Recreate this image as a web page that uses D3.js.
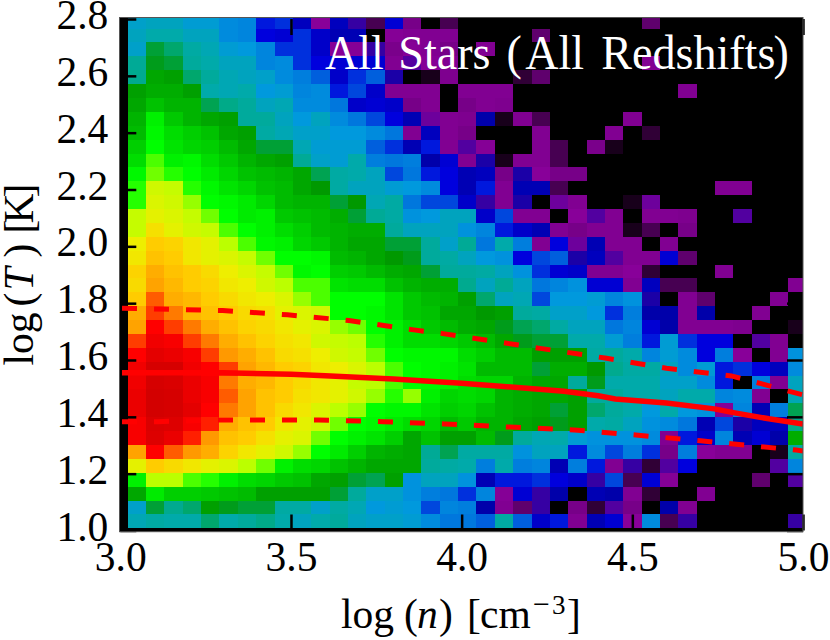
<!DOCTYPE html>
<html>
<head>
<meta charset="utf-8">
<script src="https://cdn.jsdelivr.net/npm/d3@7"></script>
<style>
html, body { margin: 0; padding: 0; background: #fff; }
svg { display: block; }
text { font-family: "Liberation Serif", serif; fill: #000; }
</style>
</head>
<body>
<div id="chart"></div>
<script>
const cellRows = [
  [32,33,33,31,31,28,27,21,22,17,10,17,13,3,19,5,0,3,0,0,0,0,0,0,0,0,0,0,4,0,0,0,0,0,0,0,0],
  [33,35,35,33,33,28,27,20,19,22,18,16,16,0,9,8,8,8,0,0,0,0,4,0,0,0,0,0,0,0,0,0,0,0,0,0,0],
  [32,43,41,36,34,31,30,27,22,22,18,9,9,13,6,9,8,5,0,8,0,0,0,0,0,0,0,0,0,0,0,0,0,0,0,0,0],
  [38,44,43,37,35,33,33,27,28,22,20,19,19,19,8,12,9,8,0,0,0,0,0,0,0,0,0,0,8,0,0,0,0,0,0,0,0],
  [39,47,46,41,37,34,33,32,28,26,24,18,22,24,14,0,1,7,0,0,0,2,4,0,0,0,0,0,0,0,0,0,0,0,0,0,0],
  [46,48,48,46,35,34,35,30,31,27,28,21,23,18,8,8,8,0,8,8,8,0,0,0,0,0,0,0,0,0,8,0,0,0,0,0,0],
  [47,51,49,49,42,40,37,33,34,28,28,25,18,19,18,5,8,0,5,8,7,0,0,0,0,0,0,0,0,0,0,0,0,0,0,0,0],
  [49,58,52,49,47,46,37,37,33,30,33,28,25,23,20,16,11,8,7,15,1,8,3,0,0,0,0,8,0,0,0,0,0,0,0,0,0],
  [50,59,55,53,51,47,46,36,34,32,32,30,30,28,25,8,17,8,5,0,0,0,8,0,0,0,8,0,2,0,0,0,0,0,0,0,0],
  [53,60,56,54,53,50,47,43,43,34,31,31,31,24,22,16,21,8,12,9,0,0,8,3,0,6,1,0,0,0,0,0,0,0,0,0,0],
  [55,62,58,59,55,52,49,47,46,38,32,31,35,26,25,26,15,19,8,14,1,8,8,3,0,0,0,0,0,0,0,0,0,0,0,0,0],
  [59,63,61,60,57,54,51,50,49,47,42,36,35,33,23,25,21,20,16,17,5,14,10,5,5,0,0,0,0,0,0,0,0,0,0,0,0],
  [61,67,66,61,59,56,54,51,50,47,45,36,33,33,31,30,28,20,16,21,8,16,16,3,0,0,0,0,0,0,0,0,8,8,0,0,0],
  [61,68,67,64,60,59,57,54,50,49,49,43,45,34,36,25,23,23,18,13,8,14,0,11,8,0,0,1,11,0,0,0,0,0,0,0,0],
  [66,69,68,66,63,60,57,58,52,51,50,48,43,38,36,29,30,33,33,18,23,8,8,0,10,12,8,0,8,8,7,0,0,12,0,0,0],
  [66,72,69,67,66,62,60,58,55,53,50,49,48,48,37,33,33,33,29,27,21,18,16,8,5,8,8,1,3,0,5,0,0,0,0,0,0],
  [70,75,74,71,69,65,62,59,58,54,52,49,47,47,43,43,37,32,38,25,35,26,8,20,11,16,8,8,0,8,0,0,0,0,0,0,0],
  [71,76,75,71,69,68,66,63,60,60,59,50,49,47,45,44,37,36,33,30,29,20,23,24,14,17,12,8,8,19,4,0,0,0,0,0,0],
  [74,78,76,75,73,70,68,66,63,59,60,53,52,50,48,47,43,37,37,36,33,29,22,19,18,8,8,10,2,0,0,0,8,0,0,0,0],
  [73,79,77,75,74,71,70,67,65,62,62,56,55,55,51,49,48,48,39,33,38,33,25,27,29,19,19,8,17,3,3,0,0,0,0,0,8],
  [75,82,78,77,75,73,71,70,68,64,62,60,60,60,56,52,50,49,46,41,33,34,23,30,30,31,27,29,14,0,8,4,0,0,0,8,0],
  [78,83,81,77,76,75,73,72,69,68,67,60,60,59,56,52,51,47,47,45,46,37,36,32,32,30,22,26,15,15,8,15,0,0,8,0,0],
  [79,85,83,81,78,76,74,73,71,69,68,64,63,60,58,55,52,50,48,47,44,42,41,36,33,33,25,27,19,15,8,8,8,7,0,0,1],
  [83,87,86,83,81,78,76,74,72,71,67,66,65,61,58,55,55,54,52,50,47,44,43,43,35,35,31,26,21,31,22,20,20,0,12,8,0],
  [85,89,88,86,83,80,78,76,73,72,70,67,66,63,60,59,59,59,55,53,50,50,46,46,46,36,37,35,27,31,28,20,26,10,0,8,29],
  [87,92,92,87,85,83,79,77,75,74,71,70,68,65,62,60,59,58,56,50,50,50,43,48,48,45,39,36,36,33,28,31,21,22,20,17,28],
  [87,92,91,88,86,81,78,77,75,73,71,69,66,65,62,60,59,58,55,54,54,49,47,47,37,44,35,35,35,32,32,28,21,0,26,8,33],
  [88,93,92,88,86,82,79,76,75,72,71,69,67,64,61,64,58,54,55,54,49,48,47,47,46,37,37,35,35,33,35,35,27,28,8,0,34],
  [88,93,92,89,85,81,79,76,73,71,68,65,64,60,59,59,56,53,54,51,49,48,47,43,46,41,37,35,30,35,30,29,9,27,16,26,42],
  [86,91,90,86,84,78,76,75,71,69,67,63,60,59,57,55,54,50,52,49,49,47,46,44,46,35,36,33,29,28,25,16,23,14,17,17,40],
  [86,90,88,84,80,76,75,72,69,68,63,60,58,56,53,47,51,46,46,50,44,37,34,35,31,29,29,29,28,8,21,18,27,16,19,15,48],
  [79,85,82,80,78,74,71,69,67,64,60,57,53,49,48,47,38,42,36,36,36,29,33,33,21,28,23,26,22,5,26,10,8,8,0,1,36],
  [69,75,73,71,69,68,65,63,58,55,54,51,49,47,47,47,37,36,35,26,35,26,27,16,26,21,8,13,2,12,20,0,0,0,0,12,27],
  [58,65,65,62,61,58,55,54,52,51,47,46,43,42,46,29,33,33,29,16,21,21,22,20,18,13,23,3,19,9,0,0,0,0,4,0,12],
  [47,57,53,53,52,51,50,46,46,46,46,43,37,32,32,29,26,25,22,27,9,19,13,15,0,16,15,8,2,0,0,8,0,0,0,0,0],
  [32,43,39,41,46,44,43,43,36,36,32,36,34,30,31,30,23,27,26,15,8,4,13,0,5,2,12,5,0,15,8,0,0,0,0,0,0],
  [34,36,35,35,41,35,37,40,35,33,35,37,33,32,32,31,28,25,25,24,36,24,18,21,8,16,19,10,28,3,13,0,0,0,0,0,13]
];

// first bin edges and bin widths, in data units
const binStartX = 3.0217, binStepX = 0.05377;
const binStartY = 1.0077, binStepY = 0.04885;

const medianX = [3.005,3.3,3.5,3.6,3.8,4.0,4.2,4.3,4.4,4.45,4.6,4.74,4.8,4.9,5.0];
const medianY = [1.555,1.555,1.55,1.545,1.533,1.518,1.5,1.49,1.474,1.463,1.449,1.428,1.414,1.393,1.375];
const upperX = [3.005,3.3,3.49,3.67,3.86,3.95,4.05,4.23,4.42,4.6,4.79,4.88,5.0];
const upperY = [1.782,1.774,1.759,1.739,1.706,1.692,1.674,1.641,1.607,1.571,1.544,1.516,1.477];
const lowerX = [3.005,3.11,3.3,3.58,3.77,3.95,4.14,4.33,4.51,4.7,4.79,4.98,5.0];
const lowerY = [1.383,1.383,1.389,1.389,1.383,1.375,1.364,1.354,1.336,1.316,1.305,1.283,1.28];

const xTicks = [3.0,3.5,4.0,4.5,5.0];
const yTicks = [1.0,1.2,1.4,1.6,1.8,2.0,2.2,2.4,2.6,2.8];

// nipy_spectral
const colorStops = [0,5,10,15,20,25,30,35,40,45,50,55,60,65,70,75,80,85,90,95,100];
const colorValues = ["#000000","#770088","#880099","#0000aa","#0000dd","#0077dd","#0099dd","#00aaaa","#00aa88","#009900","#00bb00","#00dd00","#00ff00","#bbff00","#eeee00","#ffcc00","#ff9900","#ff0000","#dd0000","#cc0000","#cccccc"];

const width = 830, height = 640;
const plotBox = { left: 120.3, right: 803, top: 19, bottom: 530.5 };
const fontSize = 41.5;

const svg = d3.select("#chart").append("svg").attr("width", width).attr("height", height);

const x = d3.scaleLinear().domain([3, 5]).range([plotBox.left, plotBox.right]);
const y = d3.scaleLinear().domain([1, 2.8]).range([plotBox.bottom, plotBox.top]);
const color = d3.scaleLinear().domain(colorStops).range(colorValues);

svg.append("defs").append("clipPath").attr("id", "plot-clip")
    .append("rect")
    .attr("x", plotBox.left).attr("y", plotBox.top - 1)
    .attr("width", plotBox.right - plotBox.left).attr("height", plotBox.bottom - plotBox.top + 1);

svg.append("rect")
    .attr("x", plotBox.left - 1).attr("y", plotBox.top - 1.5)
    .attr("width", plotBox.right - plotBox.left + 1).attr("height", plotBox.bottom - plotBox.top + 2.7)
    .attr("fill", "#000");

const plot = svg.append("g").attr("clip-path", "url(#plot-clip)");

// cells
cellRows.forEach(function (row, r) {
    const rowIndex = cellRows.length - 1 - r;
    plot.append("g").selectAll("rect")
        .data(row)
        .enter()
        .append("rect")
        .attr("x", function (d, i) { return x(binStartX + i * binStepX); })
        .attr("y", y(binStartY + (rowIndex + 1) * binStepY))
        .attr("width", x(binStartX + binStepX) - x(binStartX))
        .attr("height", y(binStartY) - y(binStartY + binStepY))
        .attr("shape-rendering", "crispEdges")
        .attr("fill", function (d) { return color(d); });
});

// median and scatter lines
const line = d3.line()
    .x(function (d) { return x(d[0]); })
    .y(function (d) { return y(d[1]); });

plot.append("path")
    .attr("d", line(d3.zip(upperX, upperY)))
    .attr("fill", "none").attr("stroke", "#ff0000")
    .attr("stroke-width", 5).attr("stroke-dasharray", "15,17");
plot.append("path")
    .attr("d", line(d3.zip(lowerX, lowerY)))
    .attr("fill", "none").attr("stroke", "#ff0000")
    .attr("stroke-width", 5).attr("stroke-dasharray", "15,17");
plot.append("path")
    .attr("d", line(d3.zip(medianX, medianY)))
    .attr("fill", "none").attr("stroke", "#ff0000")
    .attr("stroke-width", 5.5);

// axes, ticks point inward on all four sides
function styleAxis(g) {
    g.select(".domain").remove();
    g.selectAll(".tick line").attr("stroke", "#000").attr("stroke-width", 2.5);
    g.selectAll("text").style("font-size", fontSize + "px").attr("fill", "#000");
}

svg.append("g")
    .attr("transform", "translate(0," + plotBox.bottom + ")")
    .call(d3.axisBottom(x).tickValues(xTicks).tickSize(-16).tickPadding(0).tickFormat(d3.format(".1f")))
    .call(styleAxis)
    .selectAll("text").attr("y", 40).attr("dy", 0);

svg.append("g")
    .attr("transform", "translate(0," + plotBox.top + ")")
    .call(d3.axisTop(x).tickValues(xTicks).tickSize(-16).tickFormat(""))
    .call(styleAxis);

svg.append("g")
    .attr("transform", "translate(" + plotBox.left + ",0)")
    .call(d3.axisLeft(y).tickValues(yTicks).tickSize(-16).tickPadding(12).tickFormat(d3.format(".1f")))
    .call(styleAxis)
    .selectAll("text").attr("y", 9.5).attr("dy", 0);

svg.append("g")
    .attr("transform", "translate(" + plotBox.right + ",0)")
    .call(d3.axisRight(y).tickValues(yTicks).tickSize(-16).tickFormat(""))
    .call(styleAxis);

// frame
svg.append("rect")
    .attr("x", plotBox.left - 0.8).attr("y", plotBox.top - 1.5)
    .attr("width", plotBox.right - plotBox.left + 0.8).attr("height", plotBox.bottom - plotBox.top + 2.7)
    .attr("fill", "none").attr("stroke", "#555").attr("stroke-width", 1);

// text pieces set one by one, mathtext spaces them wider than a plain run
function addPieces(text, pieces) {
    pieces.forEach(function (p) {
        const t = text.append("tspan").attr("x", p.x).text(p.s);
        if (p.italic) t.style("font-style", "italic");
        if (p.size) t.style("font-size", p.size + "px");
        if (p.dy) t.attr("dy", p.dy);
    });
}

// title inside the plot, glyphs a bit narrower than they are tall
const title = svg.append("text")
    .attr("transform", "translate(325,69.3) scale(0.94,1)")
    .style("fill", "#fff")
    .style("font-size", "49px");
addPieces(title, [
    { s: "All", x: 0 },
    { s: "Stars", x: 78 },
    { s: "(", x: 193 },
    { s: "All", x: 213 },
    { s: "Redshifts", x: 294 },
    { s: ")", x: 477 }
]);

// axis labels
const xLabel = svg.append("text")
    .attr("transform", "translate(341,628)")
    .style("font-size", fontSize + "px");
addPieces(xLabel, [
    { s: "log", x: 0 },
    { s: "(", x: 63 },
    { s: "n", x: 76, italic: true },
    { s: ")", x: 98 },
    { s: "[", x: 126 },
    { s: "cm", x: 139 },
    { s: "\u2212", x: 192, size: 30, dy: -14 },
    { s: "3", x: 211, size: 27 },
    { s: "]", x: 226, dy: 14 }
]);

const yLabel = svg.append("text")
    .attr("transform", "translate(32.5,365.5) rotate(-90)")
    .style("font-size", fontSize + "px");
addPieces(yLabel, [
    { s: "log", x: 0 },
    { s: "(", x: 59 },
    { s: "T", x: 75, italic: true },
    { s: ")", x: 108 },
    { s: "[", x: 132 },
    { s: "K", x: 142 },
    { s: "]", x: 168 }
]);
</script>
</body>
</html>
